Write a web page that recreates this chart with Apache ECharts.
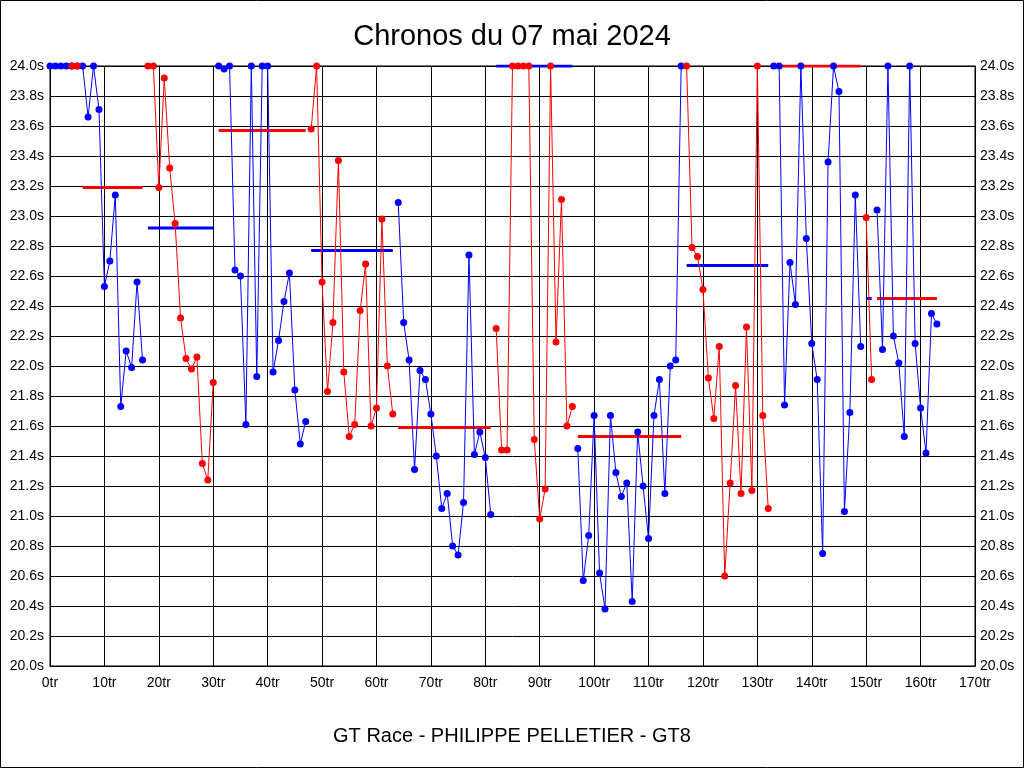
<!DOCTYPE html>
<html>
<head>
<meta charset="utf-8">
<script src="https://cdn.jsdelivr.net/npm/echarts@6/dist/echarts.min.js"></script>
<style>
html,body{margin:0;padding:0;background:#fff;}
#chart{width:1024px;height:768px;}
</style>
</head>
<body>
<div id="chart"></div>
<script>
// Lap times (s), index = lap number (0..163); values at 24.0 are capped at the top of the axis
const lapTimes = [
  24.0, 24.0, 24.0, 24.0, 24.0, 24.0, 24.0, 23.66, 24.0, 23.71,
  22.53, 22.70, 23.14, 21.73, 22.10, 21.99, 22.56, 22.04, 24.0, 24.0,
  23.19, 23.92, 23.32, 22.95, 22.32, 22.05, 21.98, 22.06, 21.35, 21.24,
  21.89, 24.0, 23.98, 24.0, 22.64, 22.60, 21.61, 24.0, 21.93, 24.0,
  24.0, 21.96, 22.17, 22.43, 22.62, 21.84, 21.48, 21.63, 23.58, 24.0,
  22.56, 21.83, 22.29, 23.37, 21.96, 21.53, 21.61, 22.37, 22.68, 21.60,
  21.72, 22.98, 22.00, 21.68, 23.09, 22.29, 22.04, 21.31, 21.97, 21.91,
  21.68, 21.40, 21.05, 21.15, 20.80, 20.74, 21.09, 22.74, 21.41, 21.56,
  21.39, 21.01, 22.25, 21.44, 21.44, 24.0, 24.0, 24.0, 24.0, 21.51,
  20.98, 21.18, 24.0, 22.16, 23.11, 21.60, 21.73, 21.45, 20.57, 20.87,
  21.67, 20.62, 20.38, 21.67, 21.29, 21.13, 21.22, 20.43, 21.56, 21.20,
  20.85, 21.67, 21.91, 21.15, 22.00, 22.04, 24.0, 24.0, 22.79, 22.73,
  22.51, 21.92, 21.65, 22.13, 20.60, 21.22, 21.87, 21.15, 22.26, 21.17,
  24.0, 21.67, 21.05, 24.0, 24.0, 21.74, 22.69, 22.41, 24.0, 22.85,
  22.15, 21.91, 20.75, 23.36, 24.0, 23.83, 21.03, 21.69, 23.14, 22.13,
  22.99, 21.91, 23.04, 22.11, 24.0, 22.20, 22.02, 21.53, 24.0, 22.15,
  21.72, 21.42, 22.35, 22.28
];
// Stints: first lap / last lap, colour alternates blue, red, ...
const stintFirst = [0, 18, 31, 48, 64, 82, 97, 117, 133, 150, 152];
const stintLast  = [17, 30, 47, 63, 81, 96, 116, 132, 149, 151, 163];
// Stint average lines (drawn in the opposite colour)
const avgFrom = [6, 18, 31, 48, 64, 82, 97, 117, 133, 150, 152];
const avgTo   = [17, 30, 47, 63, 81, 96, 116, 132, 149, 151, 163];
const avgTime = [23.19, 22.92, 23.57, 22.77, 21.59, 24.0, 21.53, 22.67, 24.0, 22.45, 22.45];
// Red laps drawn at the very start
const startRedLaps = [4, 5];

const BLUE = '#0000ff', RED = '#ff0000';
const FONT = 'Liberation Sans, Arial, sans-serif';

const series = [];
stintFirst.forEach((f, i) => {
  const col = i % 2 === 0 ? BLUE : RED;
  const data = [];
  for (let l = f; l <= stintLast[i]; l++) data.push([l, lapTimes[l]]);
  series.push({
    type: 'line', data, symbol: 'circle', symbolSize: 7,
    lineStyle: { color: col, width: 1 }, itemStyle: { color: col },
    z: 3, silent: true
  });
});
series.push({
  type: 'line', data: startRedLaps.map(l => [l, lapTimes[l]]),
  symbol: 'circle', symbolSize: 7,
  lineStyle: { color: RED, width: 1 }, itemStyle: { color: RED }, z: 4
});
avgTime.forEach((v, i) => {
  const col = i % 2 === 0 ? RED : BLUE;
  series.push({
    type: 'line', data: [[avgFrom[i], v], [avgTo[i], v]], symbol: 'none',
    lineStyle: { color: col, width: 3 }, z: 2
  });
});

const yLabel = v => v.toFixed(1) + 's';
const chart = echarts.init(document.getElementById('chart'));
chart.setOption({
  animation: false,
  backgroundColor: '#fff',
  title: [
    { text: 'Chronos du 07 mai 2024', left: 'center', top: 17,
      textStyle: { fontFamily: FONT, fontSize: 29, fontWeight: 'normal', color: '#000' } },
    { text: 'GT Race - PHILIPPE PELLETIER - GT8', left: 'center', top: 721,
      textStyle: { fontFamily: FONT, fontSize: 20, fontWeight: 'normal', color: '#000' } }
  ],
  graphic: [{ type: 'rect', shape: { x: 0.5, y: 0.5, width: 1023, height: 767 },
    style: { fill: 'none', stroke: '#000', lineWidth: 1 }, silent: true }],
  grid: { left: 50, right: 49, top: 66, bottom: 102, show: true, borderColor: '#000', borderWidth: 1, backgroundColor: '#fff' },
  xAxis: {
    type: 'value', min: 0, max: 170, interval: 10,
    axisLine: { show: true, lineStyle: { color: '#000' } },
    axisTick: { show: false },
    splitLine: { show: true, lineStyle: { color: '#000', width: 1 } },
    axisLabel: { formatter: '{value}tr', color: '#000', fontFamily: FONT, fontSize: 14, margin: 10 }
  },
  yAxis: [
    { type: 'value', min: 20, max: 24, interval: 0.2, position: 'left',
      axisLine: { show: true, lineStyle: { color: '#000' } }, axisTick: { show: false },
      splitLine: { show: true, lineStyle: { color: '#000', width: 1 } },
      axisLabel: { formatter: yLabel, color: '#000', fontFamily: FONT, fontSize: 14, margin: 6 } },
    { type: 'value', min: 20, max: 24, interval: 0.2, position: 'right',
      axisLine: { show: true, lineStyle: { color: '#000' } }, axisTick: { show: false },
      splitLine: { show: false },
      axisLabel: { formatter: yLabel, color: '#000', fontFamily: FONT, fontSize: 14, margin: 5 } }
  ],
  series
});
</script>
</body>
</html>
